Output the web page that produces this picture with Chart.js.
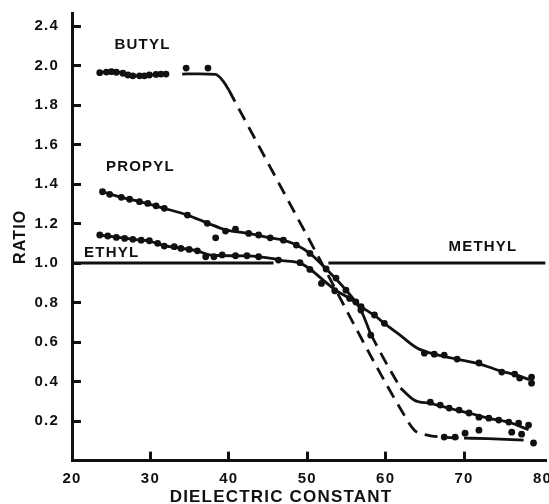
<!DOCTYPE html>
<html>
<head>
<meta charset="utf-8">
<script src="https://cdn.jsdelivr.net/npm/chart.js"></script>
<style>
html,body{margin:0;padding:0;background:#fff;}
canvas{display:block;}
</style>
</head>
<body>
<canvas id="c" width="549" height="504"></canvas>
<script>
// ---- data (x = dielectric constant, y = ratio) ----
const xTickValues = [20, 30, 40, 50, 60, 70, 80];
const yTickValues = [0, 0.2, 0.4, 0.6, 0.8, 1.0, 1.2, 1.4, 1.6, 1.8, 2.0, 2.2];
const yTickLabels = ['', '0.2', '0.4', '0.6', '0.8', '1.0', '1.2', '1.4', '1.6', '1.8', '2.0', '2.4'];

const labelNames = ['BUTYL', 'PROPYL', 'ETHYL', 'METHYL'];
const labelX = [28.99, 28.73, 25.06, 72.41];
const labelY = [2.104, 1.486, 1.051, 1.081];

const butylDots = [[23.54,1.964],[24.39,1.967],[25.03,1.969],[25.66,1.966],[26.49,1.961],[27.13,1.952],[27.76,1.948],[28.61,1.948],[29.24,1.948],[29.87,1.952],[30.72,1.955],[31.35,1.957],[31.99,1.957],[34.56,1.987],[37.34,1.987],[67.47,0.119],[68.86,0.119],[70.13,0.139],[71.9,0.154],[76.08,0.144],[77.34,0.134],[78.86,0.089]];
const butylSolidA = [[23.5,1.964],[25,1.969],[26.5,1.961],[27.8,1.948],[29.2,1.948],[30.7,1.955],[32.2,1.957]];
const butylSolidB = [[34.05,1.957],[36.2,1.958],[38.3,1.955],[39.3,1.92],[40.0,1.876]];
const butylDashed = [[40.0,1.876],[50.1,1.13],[62.15,0.245],[63.67,0.154],[65.32,0.129],[67.2,0.119],[70.0,0.114]];
const butylSolidC = [[70.0,0.114],[73.0,0.111],[77.6,0.104]];

const propylDots = [[23.89,1.361],[24.81,1.348],[26.29,1.333],[27.34,1.323],[28.61,1.311],[29.66,1.302],[30.72,1.29],[31.77,1.277],[34.72,1.243],[37.25,1.201],[38.32,1.128],[39.58,1.162],[40.85,1.172],[42.53,1.15],[43.8,1.142],[45.28,1.128],[46.96,1.116],[48.61,1.091],[50.34,1.049],[52.41,0.97],[53.67,0.924],[54.94,0.863],[56.2,0.803],[56.84,0.762],[58.1,0.635],[65.7,0.296],[66.96,0.281],[68.1,0.266],[69.37,0.256],[70.63,0.241],[71.9,0.22],[73.16,0.215],[74.43,0.205],[75.7,0.195],[76.96,0.19],[78.23,0.18]];
const propylSolidA = [[23.89,1.361],[26.29,1.333],[28.61,1.311],[31.77,1.277],[34.72,1.243],[37.25,1.203],[39.6,1.168],[42.53,1.15],[45.28,1.128],[46.96,1.116],[48.61,1.091],[50.34,1.049],[52.41,0.97],[54.94,0.863],[56.84,0.762],[58.1,0.64]];
const propylDashed = [[58.1,0.64],[59.9,0.506],[61.9,0.367]];
const propylSolidB = [[61.9,0.367],[63.67,0.306],[65.7,0.29],[68.1,0.265],[70.63,0.241],[73.16,0.214],[75.7,0.194],[78.23,0.156]];

const ethylDots = [[23.54,1.142],[24.56,1.137],[25.66,1.13],[26.71,1.125],[27.76,1.12],[28.82,1.116],[29.87,1.113],[30.92,1.1],[31.77,1.086],[33.04,1.083],[33.89,1.074],[34.94,1.069],[35.99,1.062],[37.05,1.032],[38.1,1.032],[39.15,1.041],[40.85,1.037],[42.32,1.037],[43.8,1.032],[46.33,1.015],[49.08,1.002],[50.34,0.968],[51.81,0.897],[53.51,0.86],[55.41,0.821],[56.87,0.779],[58.57,0.737],[59.84,0.695],[64.94,0.544],[66.2,0.539],[67.47,0.534],[69.11,0.514],[71.9,0.494],[74.81,0.448],[76.46,0.438],[77.09,0.418],[78.61,0.423],[78.61,0.392]];
const ethylSolid = [[23.54,1.142],[25.66,1.131],[27.76,1.12],[29.87,1.111],[31.77,1.088],[33.89,1.075],[35.99,1.062],[37.5,1.042],[39.15,1.038],[42.32,1.036],[43.8,1.032],[45.7,1.022],[46.33,1.015],[49.08,1.0],[50.34,0.97],[52.0,0.915],[53.51,0.866],[55.41,0.821],[56.87,0.779],[58.57,0.735],[59.84,0.695],[62.0,0.63],[64.0,0.57],[66.2,0.539],[69.11,0.514],[71.9,0.49],[74.81,0.452],[76.5,0.435],[78.3,0.41]];

const methylLine = [[20,1.0],[45.7,1.0],[49,null],[52.7,1.0],[80.4,1.0]];

// ---- helpers ----
const INK = '#111';
const FONT = '"Liberation Sans", Arial, Helvetica, sans-serif';
const toXY = arr => arr.map(p => ({x: p[0], y: p[1]}));
function curve(arr, dashed, width) {
  return {
    data: toXY(arr), showLine: true, borderColor: INK, borderWidth: width || 2.8,
    borderDash: dashed ? [13, 8] : [], pointRadius: 0, pointHoverRadius: 0,
    cubicInterpolationMode: 'monotone', fill: false
  };
}
function dots(arr) {
  return {
    data: toXY(arr), showLine: false, pointRadius: 3.4, pointHoverRadius: 3.4,
    pointBackgroundColor: INK, pointBorderWidth: 0, borderColor: INK
  };
}

const datasets = [
  curve(methylLine, false, 3),
  curve(butylSolidA), curve(butylSolidB), curve(butylDashed, true), curve(butylSolidC),
  curve(propylSolidA), curve(propylDashed, true), curve(propylSolidB),
  curve(ethylSolid),
  dots(butylDots), dots(propylDots), dots(ethylDots)
];

const spacingPlugin = {
  id: 'spacing',
  beforeDraw(chart) { chart.ctx.letterSpacing = '1.2px'; }
};
const labelPlugin = {
  id: 'curveLabels',
  afterDatasetsDraw(chart) {
    const {ctx, scales: {x, y}} = chart;
    ctx.save();
    ctx.font = 'bold 15px ' + FONT;
    ctx.fillStyle = INK;
    ctx.textAlign = 'center';
    ctx.textBaseline = 'middle';
    labelNames.forEach((t, i) => ctx.fillText(t, x.getPixelForValue(labelX[i]), y.getPixelForValue(labelY[i])));
    ctx.restore();
  }
};

new Chart(document.getElementById('c'), {
  type: 'scatter',
  data: {datasets},
  plugins: [spacingPlugin, labelPlugin],
  options: {
    responsive: false, animation: false, events: [],
    layout: {padding: {left: 13, top: 13, right: 0, bottom: 0}},
    plugins: {
      legend: {display: false}, tooltip: {enabled: false},
      title: {
        display: true, position: 'bottom', text: 'DIELECTRIC CONSTANT', color: INK,
        font: {family: FONT, size: 17, weight: 'bold'}, padding: {top: 4, bottom: -4}
      }
    },
    scales: {
      x: {
        type: 'linear', min: 20, max: 80.4,
        afterBuildTicks: s => { s.ticks = xTickValues.map(v => ({value: v})); },
        afterFit: s => { s.height = 23; s.paddingLeft = 0; s.paddingRight = 0; },
        border: {display: true, color: INK, width: 3},
        grid: {drawOnChartArea: false, drawTicks: true, tickLength: -9, lineWidth: 3,
               color: c => (c.tick && c.tick.value === 80) ? 'rgba(0,0,0,0)' : INK},
        ticks: {padding: 18, color: INK, autoSkip: false, maxRotation: 0,
                font: {family: FONT, size: 15, weight: 'bold'},
                callback: v => String(v)}
      },
      y: {
        type: 'linear', min: 0, max: 2.266,
        afterBuildTicks: s => { s.ticks = yTickValues.map(v => ({value: v})); },
        afterFit: s => { s.width = 59; s.paddingTop = 0; s.paddingBottom = 0; },
        border: {display: true, color: INK, width: 3},
        grid: {drawOnChartArea: false, drawTicks: true, tickLength: -9, lineWidth: 3, color: INK},
        ticks: {padding: 22, color: INK, autoSkip: false,
                font: {family: FONT, size: 15, weight: 'bold'},
                callback: (v, i) => yTickLabels[i]},
        title: {display: true, text: 'RATIO', color: INK,
                font: {family: FONT, size: 16, weight: 'bold'}, padding: {top: -2, bottom: 0}}
      }
    }
  }
});
</script>
</body>
</html>
